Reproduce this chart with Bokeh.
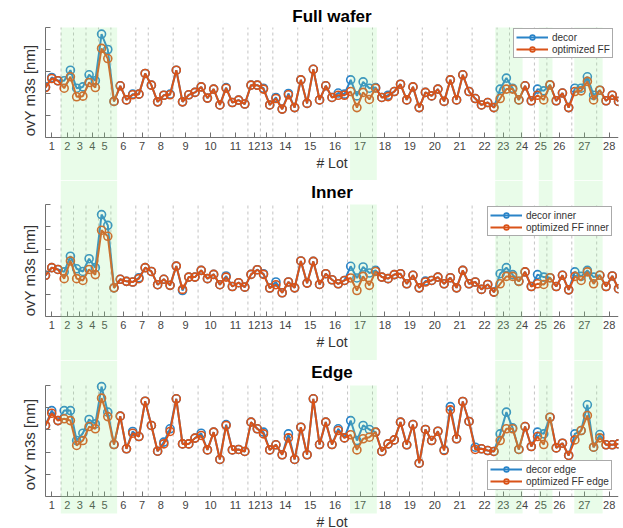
from bokeh.plotting import figure
from bokeh.models import Range1d, BoxAnnotation, FixedTicker, Label
from bokeh.layouts import column
from bokeh.embed import file_html
from bokeh.resources import INLINE

# ---------------- data ----------------
lot_labels = [str(i) for i in range(1, 29)]
lot_sizes = [3, 2, 2, 2, 2, 4, 2, 4, 4, 4, 4, 2, 2, 4, 4, 4, 4, 4, 4, 4, 4, 4, 2, 4, 2, 4, 4, 4]

full_decor = [2.3, 2.73, 2.58, 2.58, 3.06, 2.24, 2.3, 2.85, 2.58, 4.7, 4.0, 1.64, 2.35, 1.71, 1.97, 1.97,
              2.91, 2.38, 1.62, 1.92, 1.97, 3.06, 1.62, 1.94, 2.05, 2.3, 1.79, 2.2, 1.48, 2.27, 1.59, 1.7,
              1.52, 2.38, 2.38, 2.24, 1.48, 1.82, 1.29, 2.0, 1.36, 2.62, 1.55, 3.1, 1.71, 2.35, 1.82, 2.02,
              1.97, 2.62, 1.89, 2.53, 2.24, 2.27, 1.82, 1.92, 2.09, 2.42, 1.71, 2.3, 1.36, 2.05, 1.89, 2.2,
              1.64, 2.62, 1.71, 2.85, 2.09, 1.77, 1.48, 1.59, 1.36, 2.2, 2.7, 2.24, 1.71, 2.35, 1.67, 2.2,
              2.12, 2.39, 1.67, 2.02, 1.36, 2.24, 2.24, 2.76, 1.92, 2.15, 1.67, 1.92, 1.64]
full_ff = [2.27, 2.68, 2.58, 2.24, 2.76, 1.85, 1.88, 2.5, 2.27, 4.05, 3.59, 1.64, 2.35, 1.71, 1.94, 1.97,
           2.91, 2.38, 1.62, 1.92, 1.94, 3.06, 1.62, 1.94, 2.05, 2.3, 1.79, 2.2, 1.48, 2.24, 1.59, 1.7,
           1.52, 2.38, 2.38, 2.2, 1.48, 1.77, 1.29, 1.94, 1.36, 2.62, 1.55, 3.1, 1.71, 2.35, 1.82, 1.92,
           1.92, 2.09, 1.36, 2.05, 1.73, 2.24, 1.82, 1.86, 2.09, 2.42, 1.71, 2.3, 1.36, 2.05, 1.89, 2.2,
           1.64, 2.62, 1.71, 2.85, 2.09, 1.77, 1.48, 1.59, 1.36, 1.77, 2.2, 2.2, 1.71, 2.35, 1.67, 1.92,
           1.71, 2.39, 1.67, 2.02, 1.36, 2.09, 2.12, 2.55, 1.71, 2.15, 1.67, 1.92, 1.64]

inner_decor = [1.84, 2.18, 2.1, 1.99, 2.69, 2.13, 2.01, 2.58, 2.18, 4.55, 4.07, 1.28, 1.66, 1.57, 1.54, 1.73,
               2.18, 2.01, 1.42, 1.66, 1.39, 2.25, 1.16, 1.76, 1.76, 2.06, 1.69, 1.88, 1.42, 1.81, 1.34, 1.51,
               1.31, 1.88, 2.09, 1.91, 1.27, 1.54, 1.06, 1.54, 1.28, 2.48, 1.49, 2.46, 1.43, 1.91, 1.64, 1.46,
               1.61, 2.24, 1.72, 2.21, 1.94, 2.06, 1.76, 1.69, 1.87, 1.91, 1.46, 1.84, 1.28, 1.58, 1.61, 1.76,
               1.46, 1.73, 1.28, 2.06, 1.46, 1.54, 1.21, 1.43, 1.09, 1.91, 2.18, 1.87, 1.57, 1.99, 1.34, 1.87,
               1.76, 1.73, 1.34, 1.84, 1.19, 1.99, 1.79, 2.06, 1.76, 1.84, 1.34, 1.81, 1.24]
inner_ff = [1.84, 2.18, 2.1, 1.69, 2.48, 1.69, 1.61, 2.1, 1.87, 3.85, 3.58, 1.28, 1.66, 1.57, 1.54, 1.69,
            2.18, 2.01, 1.42, 1.66, 1.39, 2.25, 1.21, 1.76, 1.76, 2.06, 1.69, 1.88, 1.42, 1.76, 1.34, 1.51,
            1.31, 1.88, 2.09, 1.88, 1.27, 1.42, 1.06, 1.54, 1.28, 2.48, 1.49, 2.46, 1.43, 1.91, 1.64, 1.46,
            1.61, 1.72, 1.16, 1.79, 1.39, 2.01, 1.76, 1.69, 1.87, 1.91, 1.46, 1.84, 1.28, 1.54, 1.61, 1.76,
            1.46, 1.73, 1.28, 2.06, 1.46, 1.54, 1.21, 1.43, 1.09, 1.46, 1.79, 1.79, 1.57, 1.99, 1.34, 1.46,
            1.43, 1.73, 1.34, 1.84, 1.19, 1.79, 1.61, 1.99, 1.46, 1.84, 1.34, 1.81, 1.24]

edge_decor = [3.2, 3.87, 3.42, 3.87, 3.87, 2.52, 2.85, 3.47, 3.27, 4.95, 3.8, 2.34, 3.62, 2.15, 2.93, 2.7,
              4.29, 3.2, 2.04, 2.45, 3.05, 4.4, 2.37, 2.37, 2.63, 2.85, 2.1, 2.9, 1.67, 3.24, 2.1, 2.12,
              2.03, 3.35, 3.05, 2.9, 2.1, 2.33, 1.88, 2.82, 1.67, 3.12, 1.88, 4.4, 2.34, 3.35, 2.34, 3.05,
              2.64, 3.42, 2.52, 3.2, 3.02, 2.9, 2.03, 2.37, 2.55, 3.35, 2.33, 3.24, 1.5, 3.02, 2.52, 2.94,
              2.1, 4.05, 2.6, 4.28, 3.38, 2.22, 2.15, 2.07, 2.03, 2.82, 3.8, 3.09, 2.12, 3.15, 2.25, 2.9,
              2.82, 3.57, 2.19, 2.4, 1.85, 2.82, 2.97, 4.13, 2.22, 2.79, 2.33, 2.33, 2.37]
edge_ff = [3.2, 3.75, 3.42, 3.5, 3.42, 2.3, 2.52, 3.15, 3.05, 4.43, 3.6, 2.34, 3.62, 2.15, 2.85, 2.7,
           4.29, 3.2, 2.04, 2.37, 2.93, 4.4, 2.37, 2.37, 2.63, 2.75, 2.1, 2.9, 1.67, 3.2, 2.1, 2.12,
           2.03, 3.35, 3.05, 2.82, 2.1, 2.33, 1.88, 2.64, 1.67, 3.12, 1.88, 4.4, 2.34, 3.35, 2.34, 2.97,
           2.64, 2.78, 2.1, 2.6, 2.67, 2.9, 2.03, 2.37, 2.55, 3.35, 2.33, 3.24, 1.5, 3.02, 2.52, 2.94,
           2.07, 3.9, 2.6, 4.28, 3.38, 2.12, 2.15, 2.07, 2.03, 2.52, 3.05, 3.05, 2.12, 3.15, 2.25, 2.7,
           2.34, 3.57, 2.19, 2.4, 1.85, 2.55, 2.97, 3.65, 2.22, 2.64, 2.33, 2.33, 2.37]

# highlighted regions (in measurement-index units) and whether they run through all panels
hl_start = [2.45, 48.9, 72.2, 79.2, 84.9]
hl_end = [11.5, 53.2, 76.6, 81.4, 89.45]
hl_through = [True, False, True, True, True]

BLUE = "#2a84c8"
ORANGE = "#d95319"
FONT = "Liberation Sans"
Y_TICKS = [0, 1, 2, 3, 4, 5]

n = sum(lot_sizes)
xs = list(range(n))
centers, bounds = [], []
start = 0
for s in lot_sizes:
    centers.append(start + (s - 1) / 2)
    start += s
    bounds.append(start - 0.5)
bounds = bounds[:-1]


def panel(title, decor, ff, names, height, ax_top, ax_bottom, title_px, leg_loc,
          band_top_through, band_bottom_px):
    # plot area: value 5 sits ax_top px below the figure top, value 0 sits ax_bottom px below it
    ppu = (ax_bottom - ax_top) / 5.0
    y_hi = 5 + ax_top / ppu
    y_lo = -(height - ax_bottom) / ppu
    p = figure(width=623, height=height, x_range=Range1d(0, n - 1), y_range=Range1d(y_lo, y_hi),
               output_backend="svg", toolbar_location=None,
               min_border_left=45, min_border_right=5, min_border_top=0, min_border_bottom=0)
    p.outline_line_color = None
    p.xgrid.visible = False
    p.ygrid.visible = False
    p.background_fill_color = "white"
    p.border_fill_color = "white"

    # lot separators
    p.segment(x0=bounds, y0=[0] * len(bounds), x1=bounds, y1=[5] * len(bounds),
              line_color="#c4c4c4", line_dash="3 3", line_width=1)

    p.line(xs, decor, line_color=BLUE, line_width=2, legend_label=names[0])
    p.scatter(xs, decor, marker="circle", size=8, fill_color=None, line_color=BLUE,
              line_width=1.6, legend_label=names[0])
    p.line(xs, ff, line_color=ORANGE, line_width=2, legend_label=names[1])
    p.scatter(xs, ff, marker="circle", size=8, fill_color=None, line_color=ORANGE,
              line_width=1.6, legend_label=names[1])

    p.add_layout(Label(x=(n - 1) / 2, y=5 + (ax_top - title_px) / ppu, text=title,
                       text_font=FONT, text_font_size="17px", text_font_style="bold",
                       text_align="center", text_baseline="middle", text_color="black"))

    band_bottom = -(band_bottom_px - ax_bottom) / ppu
    for s, e, thr in zip(hl_start, hl_end, hl_through):
        p.add_layout(BoxAnnotation(left=s, right=e, bottom=band_bottom,
                                   top=y_hi if (thr and band_top_through) else 5,
                                   fill_color="#90ee90", fill_alpha=0.2,
                                   line_color=None, level="overlay"))

    xa = p.xaxis[0]
    xa.fixed_location = 0
    xa.ticker = FixedTicker(ticks=centers)
    xa.major_label_overrides = {c: l for c, l in zip(centers, lot_labels)}
    xa.major_tick_in = 5
    xa.major_tick_out = 0
    xa.minor_tick_line_color = None
    xa.major_label_standoff = 4
    xa.major_label_text_font = FONT
    xa.major_label_text_font_size = "11px"
    xa.major_label_text_color = "#444444"
    xa.axis_label = "# Lot"
    xa.axis_label_text_font = FONT
    xa.axis_label_text_font_size = "14px"
    xa.axis_label_text_font_style = "normal"
    xa.axis_label_text_color = "#333333"
    xa.axis_label_standoff = 2
    xa.axis_line_color = "#707070"
    xa.major_tick_line_color = "#707070"

    ya = p.yaxis[0]
    ya.bounds = (0, 5)
    ya.ticker = FixedTicker(ticks=Y_TICKS)
    ya.major_label_overrides = {t: "" for t in Y_TICKS}
    ya.major_label_standoff = 0
    ya.major_tick_in = 5
    ya.major_tick_out = 0
    ya.minor_tick_line_color = None
    ya.axis_label = "ovY m3s [nm]"
    ya.axis_label_text_font = FONT
    ya.axis_label_text_font_size = "15px"
    ya.axis_label_text_font_style = "normal"
    ya.axis_label_text_color = "#333333"
    ya.axis_label_standoff = 8
    ya.axis_line_color = "#707070"
    ya.major_tick_line_color = "#707070"

    lg = p.legend[0]
    lg.location = leg_loc
    lg.label_text_font = FONT
    lg.label_text_font_size = "10px"
    lg.label_text_color = "#333333"
    lg.glyph_width = 32
    lg.glyph_height = 12
    lg.label_height = 12
    lg.label_standoff = 4
    lg.spacing = 0
    lg.padding = 2
    lg.margin = 0
    lg.border_line_color = "#555555"
    lg.border_line_width = 1
    lg.background_fill_alpha = 1
    return p


p1 = panel("Full wafer", full_decor, full_ff, ["decor", "optimized FF"],
           180, 27, 137, 16, (468, 122), False, 180)
p2 = panel("Inner", inner_decor, inner_ff, ["decor inner", "optimized FF inner"],
           180, 24, 136, 12, (442, 124), True, 180)
p3 = panel("Edge", edge_decor, edge_ff, ["decor edge", "optimized FF edge"],
           168, 25, 136, 12, (442, 38), True, 153)

layout = column(p1, p2, p3, spacing=0)
open("out.html", "w").write(file_html(layout, INLINE))
